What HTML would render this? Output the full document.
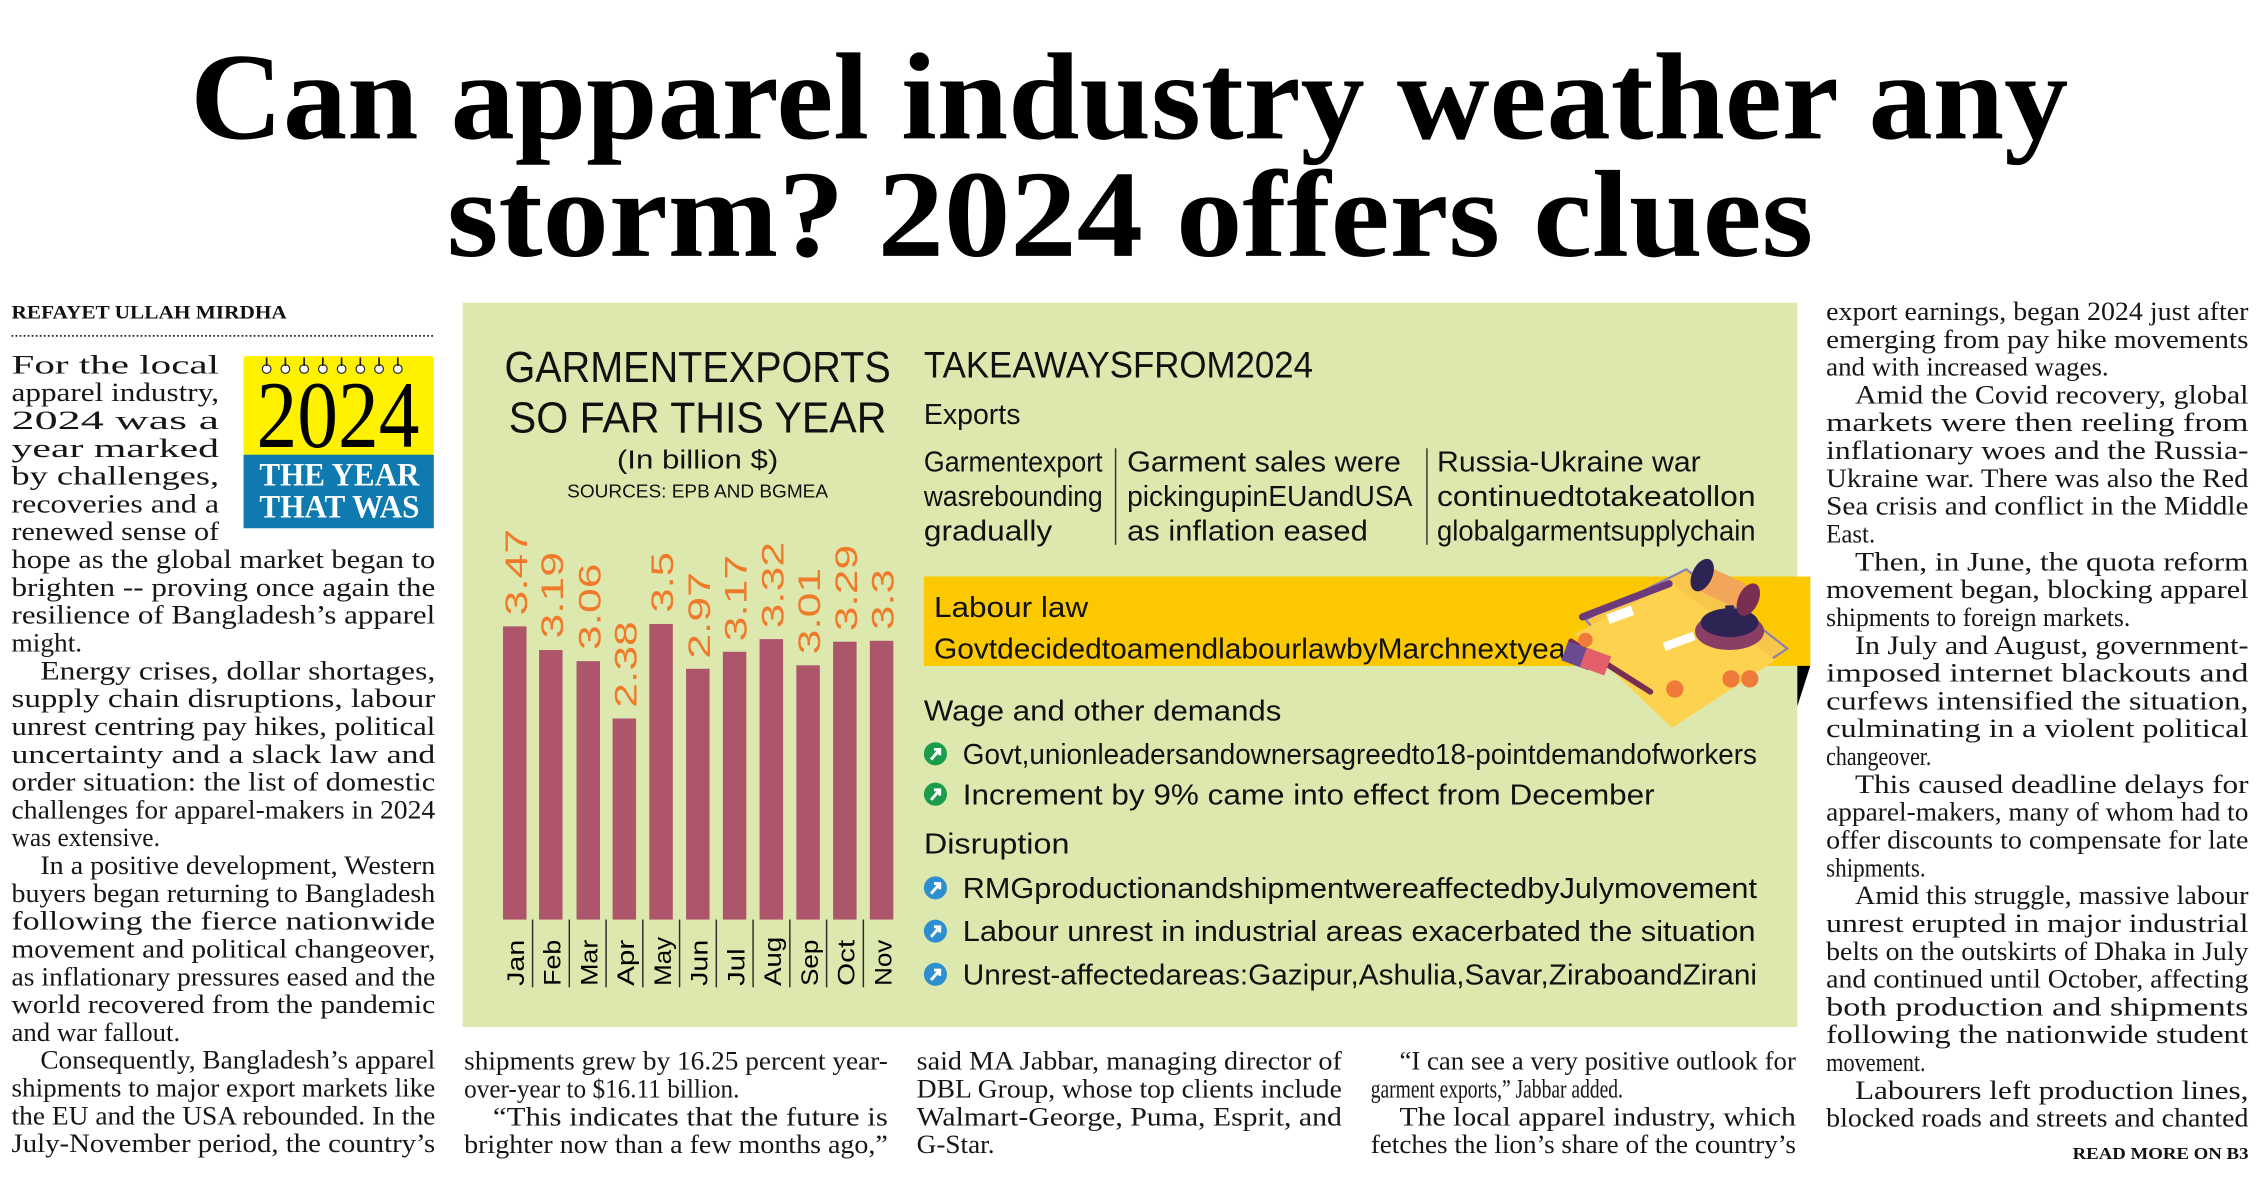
<!DOCTYPE html>
<html><head><meta charset="utf-8">
<style>
html,body{margin:0;padding:0;background:#fff;}
svg{display:block;}
.b{font-family:"Liberation Serif",serif;font-size:18px;fill:#161616;}
.s{font-family:"Liberation Sans",sans-serif;fill:#111;}
</style></head>
<body>
<svg width="2260" height="1178" viewBox="0 0 1568 817.3" preserveAspectRatio="none" xmlns="http://www.w3.org/2000/svg">
<rect width="1568" height="818" fill="#fff"/>
<!-- Title -->
<g font-family="Liberation Serif, serif" font-weight="bold" font-size="86" fill="#000">
<text x="132" y="96" textLength="1303" lengthAdjust="spacingAndGlyphs">Can apparel industry weather any</text>
<text x="310" y="177.5" textLength="948" lengthAdjust="spacingAndGlyphs">storm? 2024 offers clues</text>
</g>

<!-- Byline -->
<text x="8" y="221" font-family="Liberation Serif, serif" font-weight="bold" font-size="13" textLength="191" lengthAdjust="spacingAndGlyphs" fill="#111">REFAYET ULLAH MIRDHA</text>
<line x1="8" y1="233" x2="302" y2="233" stroke="#222" stroke-width="1.2" stroke-dasharray="1.2,1.6"/>

<!-- Badge -->
<rect x="169" y="247" width="132" height="69" fill="#fff200" rx="2"/>
<rect x="169" y="315.5" width="132" height="51" fill="#0f7aaf"/>
<g fill="#fff" stroke="#222" stroke-width="0.8">
<circle cx="185" cy="256" r="3"/><circle cx="198" cy="256" r="3"/><circle cx="211" cy="256" r="3"/><circle cx="224" cy="256" r="3"/><circle cx="237" cy="256" r="3"/><circle cx="250" cy="256" r="3"/><circle cx="263" cy="256" r="3"/><circle cx="276" cy="256" r="3"/>
</g>
<g stroke="#222" stroke-width="1.2"><line x1="185" y1="248" x2="185" y2="254"/><line x1="198" y1="248" x2="198" y2="254"/><line x1="211" y1="248" x2="211" y2="254"/><line x1="224" y1="248" x2="224" y2="254"/><line x1="237" y1="248" x2="237" y2="254"/><line x1="250" y1="248" x2="250" y2="254"/><line x1="263" y1="248" x2="263" y2="254"/><line x1="276" y1="248" x2="276" y2="254"/></g>
<text x="178" y="310" font-family="Liberation Serif, serif" font-size="66" textLength="113" lengthAdjust="spacingAndGlyphs" fill="#000">2024</text>
<g font-family="Liberation Serif, serif" font-weight="bold" font-size="23" fill="#fff">
<text x="180" y="337" textLength="111" lengthAdjust="spacingAndGlyphs">THE YEAR</text>
<text x="180" y="359" textLength="111" lengthAdjust="spacingAndGlyphs">THAT WAS</text>
</g>

<!-- Left column -->
<g class="b">
<text x="8" y="259" textLength="144" lengthAdjust="spacingAndGlyphs">For   the   local</text>
<text x="8" y="278.3" textLength="144" lengthAdjust="spacingAndGlyphs">apparel  industry,</text>
<text x="8" y="297.6" textLength="144" lengthAdjust="spacingAndGlyphs">2024       was       a</text>
<text x="8" y="316.9" textLength="144" lengthAdjust="spacingAndGlyphs">year          marked</text>
<text x="8" y="336.2" textLength="144" lengthAdjust="spacingAndGlyphs">by      challenges,</text>
<text x="8" y="355.5" textLength="144" lengthAdjust="spacingAndGlyphs">recoveries  and  a</text>
<text x="8" y="374.8" textLength="144" lengthAdjust="spacingAndGlyphs">renewed  sense  of</text>
<text x="8" y="394.1" textLength="294" lengthAdjust="spacingAndGlyphs">hope as the global market began to</text>
<text x="8" y="413.4" textLength="294" lengthAdjust="spacingAndGlyphs">brighten  --  proving  once  again  the</text>
<text x="8" y="432.7" textLength="294" lengthAdjust="spacingAndGlyphs">resilience  of  Bangladesh’s  apparel</text>
<text x="8" y="452" textLength="49" lengthAdjust="spacingAndGlyphs">might.</text>
<text x="28" y="471.3" textLength="274" lengthAdjust="spacingAndGlyphs">Energy  crises,  dollar  shortages,</text>
<text x="8" y="490.6" textLength="294" lengthAdjust="spacingAndGlyphs">supply  chain  disruptions,  labour</text>
<text x="8" y="509.9" textLength="294" lengthAdjust="spacingAndGlyphs">unrest centring pay hikes, political</text>
<text x="8" y="529.2" textLength="294" lengthAdjust="spacingAndGlyphs">uncertainty  and  a  slack  law  and</text>
<text x="8" y="548.5" textLength="294" lengthAdjust="spacingAndGlyphs">order situation: the list of domestic</text>
<text x="8" y="567.8" textLength="294" lengthAdjust="spacingAndGlyphs">challenges for apparel-makers in 2024</text>
<text x="8" y="587.1" textLength="103" lengthAdjust="spacingAndGlyphs">was extensive.</text>
<text x="28" y="606.4" textLength="274" lengthAdjust="spacingAndGlyphs">In a positive development, Western</text>
<text x="8" y="625.7" textLength="294" lengthAdjust="spacingAndGlyphs">buyers began returning to Bangladesh</text>
<text x="8" y="645" textLength="294" lengthAdjust="spacingAndGlyphs">following     the     fierce     nationwide</text>
<text x="8" y="664.3" textLength="294" lengthAdjust="spacingAndGlyphs">movement and political changeover,</text>
<text x="8" y="683.6" textLength="294" lengthAdjust="spacingAndGlyphs">as inflationary pressures eased and the</text>
<text x="8" y="702.9" textLength="294" lengthAdjust="spacingAndGlyphs">world recovered from the pandemic</text>
<text x="8" y="722.2" textLength="117" lengthAdjust="spacingAndGlyphs">and war fallout.</text>
<text x="28" y="741.5" textLength="274" lengthAdjust="spacingAndGlyphs">Consequently, Bangladesh’s apparel</text>
<text x="8" y="760.8" textLength="294" lengthAdjust="spacingAndGlyphs">shipments to major export markets like</text>
<text x="8" y="780.1" textLength="294" lengthAdjust="spacingAndGlyphs">the EU and the USA rebounded. In the</text>
<text x="8" y="799.4" textLength="294" lengthAdjust="spacingAndGlyphs">July-November period, the country’s</text>
</g>

<!-- Panel -->
<rect x="321" y="210" width="926" height="502.5" fill="#dce8ae"/>
<g class="s" text-anchor="middle">
<text x="484" y="265" font-size="30" textLength="268" lengthAdjust="spacingAndGlyphs">GARMENTEXPORTS</text>
<text x="484" y="300" font-size="30" textLength="262" lengthAdjust="spacingAndGlyphs">SO FAR THIS YEAR</text>
<text x="484" y="325" font-size="18" textLength="112" lengthAdjust="spacingAndGlyphs">(In billion $)</text>
<text x="484" y="345" font-size="12.5" textLength="181" lengthAdjust="spacingAndGlyphs">SOURCES: EPB AND BGMEA</text>
</g>

<!-- Bars -->
<g fill="#ad566b">
<rect x="349" y="434.6" width="16.3" height="203.4"/>
<rect x="374" y="451" width="16.3" height="187"/>
<rect x="400" y="458.7" width="16.3" height="179.3"/>
<rect x="425" y="498.5" width="16.3" height="139.5"/>
<rect x="450.5" y="432.9" width="16.3" height="205.1"/>
<rect x="476" y="464" width="16.3" height="174"/>
<rect x="501.5" y="452.2" width="16.3" height="185.8"/>
<rect x="527" y="443.4" width="16.3" height="194.6"/>
<rect x="552.5" y="461.6" width="16.3" height="176.4"/>
<rect x="578" y="445.2" width="16.3" height="192.8"/>
<rect x="603.5" y="444.6" width="16.3" height="193.4"/>
</g>
<g stroke="#2a2a2a" stroke-width="1">
<line x1="369.5" y1="638" x2="369.5" y2="685"/><line x1="395" y1="638" x2="395" y2="685"/><line x1="420.5" y1="638" x2="420.5" y2="685"/><line x1="446" y1="638" x2="446" y2="685"/><line x1="471.5" y1="638" x2="471.5" y2="685"/><line x1="497" y1="638" x2="497" y2="685"/><line x1="522.5" y1="638" x2="522.5" y2="685"/><line x1="548" y1="638" x2="548" y2="685"/><line x1="573.5" y1="638" x2="573.5" y2="685"/><line x1="599" y1="638" x2="599" y2="685"/>
</g>
<g font-family="Liberation Sans, sans-serif" font-size="22" fill="#f07a2a">
<text transform="translate(365.5,427) rotate(-90)" textLength="60" lengthAdjust="spacingAndGlyphs">3.47</text>
<text transform="translate(390.5,443) rotate(-90)" textLength="60" lengthAdjust="spacingAndGlyphs">3.19</text>
<text transform="translate(416.5,451) rotate(-90)" textLength="60" lengthAdjust="spacingAndGlyphs">3.06</text>
<text transform="translate(441.5,491) rotate(-90)" textLength="60" lengthAdjust="spacingAndGlyphs">2.38</text>
<text transform="translate(467,425) rotate(-90)" textLength="42" lengthAdjust="spacingAndGlyphs">3.5</text>
<text transform="translate(492.5,457) rotate(-90)" textLength="60" lengthAdjust="spacingAndGlyphs">2.97</text>
<text transform="translate(518,445) rotate(-90)" textLength="60" lengthAdjust="spacingAndGlyphs">3.17</text>
<text transform="translate(543.5,436) rotate(-90)" textLength="60" lengthAdjust="spacingAndGlyphs">3.32</text>
<text transform="translate(569,454) rotate(-90)" textLength="60" lengthAdjust="spacingAndGlyphs">3.01</text>
<text transform="translate(594.5,438) rotate(-90)" textLength="60" lengthAdjust="spacingAndGlyphs">3.29</text>
<text transform="translate(620,437) rotate(-90)" textLength="42" lengthAdjust="spacingAndGlyphs">3.3</text>
</g>
<g font-family="Liberation Sans, sans-serif" font-size="17" fill="#000">
<text transform="translate(363.5,684) rotate(-90)" textLength="32" lengthAdjust="spacingAndGlyphs">Jan</text>
<text transform="translate(389,684) rotate(-90)" textLength="32" lengthAdjust="spacingAndGlyphs">Feb</text>
<text transform="translate(414.5,684) rotate(-90)" textLength="32" lengthAdjust="spacingAndGlyphs">Mar</text>
<text transform="translate(440,684) rotate(-90)" textLength="32" lengthAdjust="spacingAndGlyphs">Apr</text>
<text transform="translate(465.5,684) rotate(-90)" textLength="34" lengthAdjust="spacingAndGlyphs">May</text>
<text transform="translate(491,684) rotate(-90)" textLength="32" lengthAdjust="spacingAndGlyphs">Jun</text>
<text transform="translate(516.5,684) rotate(-90)" textLength="26" lengthAdjust="spacingAndGlyphs">Jul</text>
<text transform="translate(542,684) rotate(-90)" textLength="34" lengthAdjust="spacingAndGlyphs">Aug</text>
<text transform="translate(567.5,684) rotate(-90)" textLength="32" lengthAdjust="spacingAndGlyphs">Sep</text>
<text transform="translate(593,684) rotate(-90)" textLength="32" lengthAdjust="spacingAndGlyphs">Oct</text>
<text transform="translate(618.5,684) rotate(-90)" textLength="32" lengthAdjust="spacingAndGlyphs">Nov</text>
</g>

<!-- Takeaways -->
<g class="s">
<text x="641" y="262" font-size="26" textLength="270" lengthAdjust="spacingAndGlyphs">TAKEAWAYSFROM2024</text>
<text x="641" y="294" font-size="20" textLength="67" lengthAdjust="spacingAndGlyphs">Exports</text>
<g font-size="20">
<text x="641" y="327" textLength="124" lengthAdjust="spacingAndGlyphs">Garmentexport</text>
<text x="641" y="351" textLength="124" lengthAdjust="spacingAndGlyphs">wasrebounding</text>
<text x="641" y="375" textLength="89" lengthAdjust="spacingAndGlyphs">gradually</text>
<text x="782" y="327" textLength="190" lengthAdjust="spacingAndGlyphs">Garment sales were</text>
<text x="782" y="351" textLength="198" lengthAdjust="spacingAndGlyphs">pickingupinEUandUSA</text>
<text x="782" y="375" textLength="167" lengthAdjust="spacingAndGlyphs">as inflation eased</text>
<text x="997" y="327" textLength="183" lengthAdjust="spacingAndGlyphs">Russia-Ukraine war</text>
<text x="997" y="351" textLength="221" lengthAdjust="spacingAndGlyphs">continuedtotakeatollon</text>
<text x="997" y="375" textLength="221" lengthAdjust="spacingAndGlyphs">globalgarmentsupplychain</text>
</g>
</g>
<line x1="774" y1="311" x2="774" y2="378" stroke="#333" stroke-width="1"/>
<line x1="990" y1="311" x2="990" y2="378" stroke="#333" stroke-width="1"/>

<!-- Labour law band -->
<rect x="641" y="400" width="615" height="62" fill="#fcc800"/>
<polygon points="1247,462 1256,462 1247,490" fill="#000"/>
<g class="s" font-size="20">
<text x="648" y="428" textLength="107" lengthAdjust="spacingAndGlyphs">Labour law</text>
<text x="648" y="457" textLength="445" lengthAdjust="spacingAndGlyphs">GovtdecidedtoamendlabourlawbyMarchnextyear</text>
</g>
<!-- Illustration -->
<g>
<rect x="1190" y="570" width="0" height="0"/>
<polygon points="1100,430 1170,395 1240,450 1165,500" fill="#f7c64a" stroke="#8a7fb5" stroke-width="1.5"/>
<polygon points="1092,440 1160,405 1232,458 1160,505" fill="#fcd24e"/>
<rect x="1115" y="423" width="18" height="7" fill="#fff" transform="rotate(-20 1124 426)"/>
<rect x="1154" y="442" width="22" height="6" fill="#fff" transform="rotate(-20 1165 445)"/>
<line x1="1098" y1="428" x2="1158" y2="405" stroke="#6a3a7a" stroke-width="5" stroke-linecap="round"/>
<line x1="1090" y1="445" x2="1145" y2="480" stroke="#7a2f52" stroke-width="4" stroke-linecap="round"/>
<ellipse cx="1200" cy="438" rx="24" ry="13" fill="#8a3e64"/>
<ellipse cx="1200" cy="432" rx="20" ry="10" fill="#2d2453"/>
<rect x="1176" y="398" width="36" height="18" rx="5" fill="#f2a65a" transform="rotate(25 1194 407)"/>
<ellipse cx="1181" cy="399" rx="7" ry="12" fill="#2d2453" transform="rotate(25 1181 399)"/>
<ellipse cx="1213" cy="416" rx="7" ry="12" fill="#7a2f52" transform="rotate(25 1213 416)"/>
<line x1="1200" y1="420" x2="1200" y2="430" stroke="#2d2453" stroke-width="6"/>
<rect x="1085" y="448" width="20" height="14" fill="#6a4a90" transform="rotate(20 1095 455)"/>
<rect x="1098" y="452" width="18" height="14" fill="#e35f6a" transform="rotate(20 1107 459)"/>
<circle cx="1162" cy="478" r="6" fill="#ef7a3a"/><circle cx="1201" cy="471" r="6" fill="#ef7a3a"/><circle cx="1214" cy="471" r="6" fill="#ef7a3a"/>
<circle cx="1100" cy="444" r="5" fill="#ef7a3a"/>
</g>

<g class="s" font-size="20">
<text x="641" y="500" textLength="248" lengthAdjust="spacingAndGlyphs">Wage and other demands</text>
<text x="668" y="530" textLength="551" lengthAdjust="spacingAndGlyphs">Govt,unionleadersandownersagreedto18-pointdemandofworkers</text>
<text x="668" y="558" textLength="480" lengthAdjust="spacingAndGlyphs">Increment by 9% came into effect from December</text>
<text x="641" y="592" textLength="101" lengthAdjust="spacingAndGlyphs">Disruption</text>
<text x="668" y="623" textLength="551" lengthAdjust="spacingAndGlyphs">RMGproductionandshipmentwereaffectedbyJulymovement</text>
<text x="668" y="653" textLength="550" lengthAdjust="spacingAndGlyphs">Labour unrest in industrial areas exacerbated the situation</text>
<text x="668" y="683" textLength="551" lengthAdjust="spacingAndGlyphs">Unrest-affectedareas:Gazipur,Ashulia,Savar,ZiraboandZirani</text>
</g>
<g>
<circle cx="649" cy="523" r="8" fill="#1a9d4b"/><path d="M646 527 L652 520 M648 520 L652 520 L652 524" stroke="#fff" stroke-width="2" fill="none"/>
<circle cx="649" cy="551" r="8" fill="#1a9d4b"/><path d="M646 555 L652 548 M648 548 L652 548 L652 552" stroke="#fff" stroke-width="2" fill="none"/>
<circle cx="649" cy="616" r="8" fill="#2e8fd0"/><path d="M646 620 L652 613 M648 613 L652 613 L652 617" stroke="#fff" stroke-width="2" fill="none"/>
<circle cx="649" cy="646" r="8" fill="#2e8fd0"/><path d="M646 650 L652 643 M648 643 L652 643 L652 647" stroke="#fff" stroke-width="2" fill="none"/>
<circle cx="649" cy="676" r="8" fill="#2e8fd0"/><path d="M646 680 L652 673 M648 673 L652 673 L652 677" stroke="#fff" stroke-width="2" fill="none"/>
</g>

<!-- Bottom columns -->
<g class="b">
<text x="322" y="742" textLength="294" lengthAdjust="spacingAndGlyphs">shipments grew by 16.25 percent year-</text>
<text x="322" y="761.3" textLength="191" lengthAdjust="spacingAndGlyphs">over-year to $16.11 billion.</text>
<text x="342" y="781" textLength="274" lengthAdjust="spacingAndGlyphs">“This  indicates  that  the  future  is</text>
<text x="322" y="800" textLength="294" lengthAdjust="spacingAndGlyphs">brighter now than a few months ago,”</text>
<text x="636" y="742" textLength="295" lengthAdjust="spacingAndGlyphs">said MA Jabbar, managing director of</text>
<text x="636" y="761.3" textLength="295" lengthAdjust="spacingAndGlyphs">DBL Group, whose top clients include</text>
<text x="636" y="781" textLength="295" lengthAdjust="spacingAndGlyphs">Walmart-George,  Puma,  Esprit,  and</text>
<text x="636" y="800" textLength="54" lengthAdjust="spacingAndGlyphs">G-Star.</text>
<text x="971" y="742" textLength="275" lengthAdjust="spacingAndGlyphs">“I can see a very positive outlook for</text>
<text x="951" y="761.3" textLength="175" lengthAdjust="spacingAndGlyphs">garment exports,” Jabbar added.</text>
<text x="971" y="781" textLength="275" lengthAdjust="spacingAndGlyphs">The  local  apparel  industry,  which</text>
<text x="951" y="800" textLength="295" lengthAdjust="spacingAndGlyphs">fetches the lion’s share of the country’s</text>
</g>

<!-- Right column -->
<g class="b">
<text x="1267" y="222" textLength="293" lengthAdjust="spacingAndGlyphs">export earnings, began 2024 just after</text>
<text x="1267" y="241.3" textLength="293" lengthAdjust="spacingAndGlyphs">emerging  from  pay  hike  movements</text>
<text x="1267" y="260.6" textLength="196" lengthAdjust="spacingAndGlyphs">and with increased wages.</text>
<text x="1287" y="279.9" textLength="273" lengthAdjust="spacingAndGlyphs">Amid  the  Covid  recovery,  global</text>
<text x="1267" y="299.2" textLength="293" lengthAdjust="spacingAndGlyphs">markets    were    then    reeling    from</text>
<text x="1267" y="318.5" textLength="293" lengthAdjust="spacingAndGlyphs">inflationary   woes   and   the   Russia-</text>
<text x="1267" y="337.8" textLength="293" lengthAdjust="spacingAndGlyphs">Ukraine war. There was also the Red</text>
<text x="1267" y="357.1" textLength="293" lengthAdjust="spacingAndGlyphs">Sea crisis and conflict in the Middle</text>
<text x="1267" y="376.4" textLength="34" lengthAdjust="spacingAndGlyphs">East.</text>
<text x="1287" y="395.7" textLength="273" lengthAdjust="spacingAndGlyphs">Then,  in  June,  the  quota  reform</text>
<text x="1267" y="415" textLength="293" lengthAdjust="spacingAndGlyphs">movement  began,  blocking  apparel</text>
<text x="1267" y="434.3" textLength="211" lengthAdjust="spacingAndGlyphs">shipments to foreign markets.</text>
<text x="1287" y="453.6" textLength="273" lengthAdjust="spacingAndGlyphs">In  July  and  August,  government-</text>
<text x="1267" y="472.9" textLength="293" lengthAdjust="spacingAndGlyphs">imposed    internet    blackouts    and</text>
<text x="1267" y="492.2" textLength="293" lengthAdjust="spacingAndGlyphs">curfews   intensified   the   situation,</text>
<text x="1267" y="511.5" textLength="293" lengthAdjust="spacingAndGlyphs">culminating   in   a   violent   political</text>
<text x="1267" y="530.8" textLength="73" lengthAdjust="spacingAndGlyphs">changeover.</text>
<text x="1287" y="550.1" textLength="273" lengthAdjust="spacingAndGlyphs">This  caused  deadline  delays  for</text>
<text x="1267" y="569.4" textLength="293" lengthAdjust="spacingAndGlyphs">apparel-makers, many of whom had to</text>
<text x="1267" y="588.7" textLength="293" lengthAdjust="spacingAndGlyphs">offer discounts to compensate for late</text>
<text x="1267" y="608" textLength="69" lengthAdjust="spacingAndGlyphs">shipments.</text>
<text x="1287" y="627.3" textLength="273" lengthAdjust="spacingAndGlyphs">Amid this struggle, massive labour</text>
<text x="1267" y="646.6" textLength="293" lengthAdjust="spacingAndGlyphs">unrest  erupted  in  major  industrial</text>
<text x="1267" y="665.9" textLength="293" lengthAdjust="spacingAndGlyphs">belts on the outskirts of Dhaka in July</text>
<text x="1267" y="685.2" textLength="293" lengthAdjust="spacingAndGlyphs">and continued until October, affecting</text>
<text x="1267" y="704.5" textLength="293" lengthAdjust="spacingAndGlyphs">both    production    and    shipments</text>
<text x="1267" y="723.8" textLength="293" lengthAdjust="spacingAndGlyphs">following    the    nationwide    student</text>
<text x="1267" y="743.1" textLength="69" lengthAdjust="spacingAndGlyphs">movement.</text>
<text x="1287" y="762.4" textLength="273" lengthAdjust="spacingAndGlyphs">Labourers left production lines,</text>
<text x="1267" y="781.7" textLength="293" lengthAdjust="spacingAndGlyphs">blocked roads and streets and chanted</text>
</g>
<text x="1560" y="804" text-anchor="end" font-family="Liberation Serif, serif" font-weight="bold" font-size="12" textLength="122" lengthAdjust="spacingAndGlyphs" fill="#111">READ MORE ON B3</text>
</svg>
</body></html>
